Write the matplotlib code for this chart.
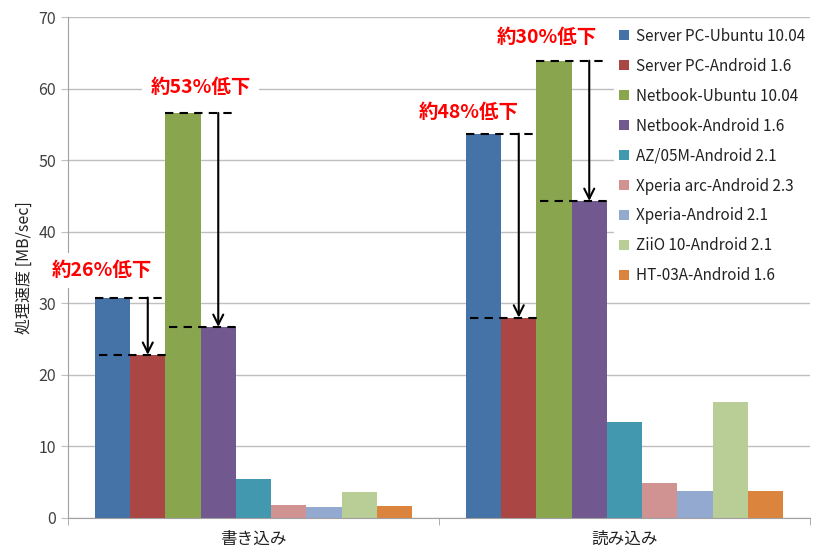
import numpy as np
import matplotlib
matplotlib.use('Agg')
import matplotlib.pyplot as plt

plt.rcParams['font.family'] = ['Noto Sans CJK JP', 'DejaVu Sans']

categories = ['書き込み', '読み込み']
series = ['Server PC-Ubuntu 10.04', 'Server PC-Android 1.6', 'Netbook-Ubuntu 10.04',
          'Netbook-Android 1.6', 'AZ/05M-Android 2.1', 'Xperia arc-Android 2.3',
          'Xperia-Android 2.1', 'ZiiO 10-Android 2.1', 'HT-03A-Android 1.6']
write_vals = [30.8, 22.8, 56.6, 26.7, 5.5, 1.8, 1.5, 3.7, 1.7]
read_vals = [53.7, 28.0, 63.9, 44.3, 13.4, 4.9, 3.8, 16.2, 3.8]
colors = ['#4572A7', '#AA4643', '#89A54E', '#71588F', '#4198AF',
          '#D09392', '#93A9CF', '#B9CD96', '#DB843D']

# drop annotations: (category, bar from, bar to, label, label x offset, label y)
drops = [(0, 0, 1, '約26%低下', -0.03, 34.6),
         (0, 2, 3, '約53%低下', 0.047, 60.2),
         (1, 0, 1, '約48%低下', -0.04, 56.7),
         (1, 2, 3, '約30%低下', -0.02, 67.2)]

fig = plt.figure(figsize=(8.13, 5.49), dpi=100)
ax = fig.add_axes([68/813, 31/549, 742/813, 501/549])

n = len(series)
w = 0.855 / n
x = np.arange(len(categories))
vals = np.array([write_vals, read_vals]).T
for i in range(n):
    ax.bar(x + (i - (n - 1) / 2) * w, vals[i], w, color=colors[i], label=series[i],
           zorder=2)

ax.set_xlim(-0.5, 1.5)
ax.set_ylim(0, 70)
ax.set_yticks(np.arange(0, 71, 10))
ax.yaxis.grid(True, color='#BFBFBF', lw=1, zorder=0)
ax.set_xticks(x)
ax.set_xticklabels(categories, fontsize=12, color='#222222')
ax.set_xticks([-0.5, 0.5, 1.5], minor=True)
ax.tick_params(axis='x', which='major', length=0, pad=9)
ax.tick_params(axis='x', which='minor', length=5, color='#A0A0A0')
ax.tick_params(axis='y', length=5, color='#BFBFBF', labelsize=11.5, labelcolor='#404040')
for s in ['top', 'right']:
    ax.spines[s].set_visible(False)
ax.spines['left'].set_color('#A0A0A0')
ax.spines['bottom'].set_color('#A0A0A0')
ax.set_ylabel('処理速度 [MB/sec]', fontsize=11.5, color='#222222', labelpad=4)

for c, a, b, label, dx, ly in drops:
    xa = c + (a - (n - 1) / 2) * w
    xb = c + (b - (n - 1) / 2) * w
    top = vals[a][c]
    low = vals[b][c]
    left = xa - w / 2
    right = xb + w / 2
    ax.plot([left, right], [top, top], color='black', ls=(0, (4, 3)), lw=1.5, zorder=3)
    ax.plot([left + 0.01, right + 0.01], [low, low], color='black', ls=(0, (4, 3)), lw=1.5, zorder=3)
    ax.annotate('', xy=(xb, low), xytext=(xb, top),
                arrowprops=dict(arrowstyle='->', lw=1.5, color='black',
                                shrinkA=0, shrinkB=0, mutation_scale=18), zorder=4)
    ax.text(xa + dx, ly, label, color='#FF0000', fontsize=14, fontweight='bold',
            ha='center', va='center', zorder=5,
            bbox=dict(facecolor='white', edgecolor='none', pad=6))

leg = ax.legend(loc='upper left', bbox_to_anchor=(614/813, 1 - 23/549),
                bbox_transform=fig.transFigure, fontsize=11, frameon=True,
                framealpha=1, edgecolor='none', facecolor='white',
                handlelength=0.65, handleheight=0.65, handletextpad=0.5,
                labelspacing=0.85, borderpad=0.3, borderaxespad=0)
for t in leg.get_texts():
    t.set_color('#222222')
leg.set_zorder(6)

fig.savefig('out.png', dpi=100)
